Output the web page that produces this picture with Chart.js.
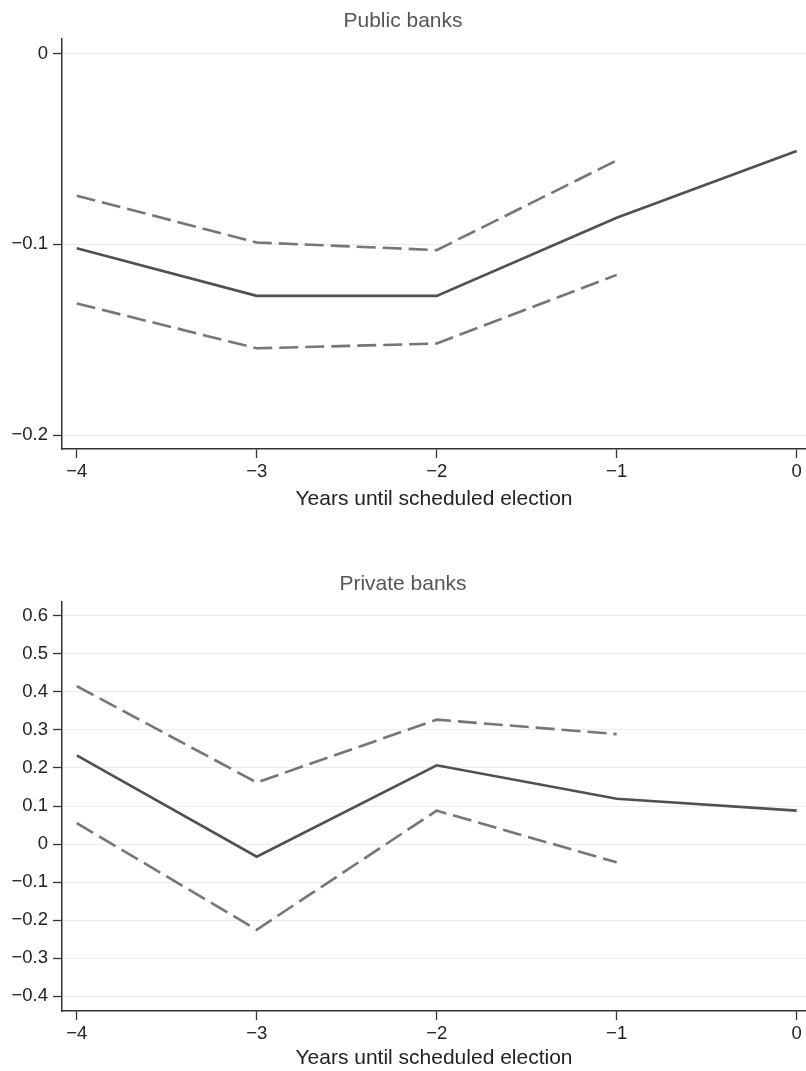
<!DOCTYPE html>
<html><head><meta charset="utf-8">
<script src="https://cdn.jsdelivr.net/npm/chart.js@4"></script>
<style>
html,body{margin:0;padding:0;background:#fff;}
#wrap1{position:absolute;left:0;top:0;width:806px;height:530px;}
#wrap2{position:absolute;left:0;top:540px;width:806px;height:531px;}
canvas{display:block;}
</style></head><body>
<div id="wrap1"><canvas id="c1" width="806" height="530"></canvas></div>
<div id="wrap2"><canvas id="c2" width="806" height="531"></canvas></div>
<script>
const years = [-4, -3, -2, -1, 0];
const publicEstimate = [-0.102, -0.127, -0.127, -0.086, -0.051];
const publicUpper = [-0.0745, -0.099, -0.103, -0.056];
const publicLower = [-0.131, -0.1545, -0.152, -0.116];
const privateEstimate = [0.233, -0.033, 0.207, 0.119, 0.088];
const privateUpper = [0.415, 0.162, 0.327, 0.289];
const privateLower = [0.055, -0.225, 0.088, -0.048];
const xTicks = [-4, -3, -2, -1, 0];
const publicYTicks = [-0.2, -0.1, 0];
const privateYTicks = [-0.4, -0.3, -0.2, -0.1, 0, 0.1, 0.2, 0.3, 0.4, 0.5, 0.6];
const panelTitles = ['Public banks', 'Private banks'];
const xTitle = 'Years until scheduled election';

Chart.defaults.font.family = "'Liberation Sans', Arial, Helvetica, sans-serif";

function pts(arr) { return arr.map((v, i) => ({ x: years[i], y: v })); }
function fmt(v) {
  const r = Math.round(v * 10) / 10;
  const s = (r === 0 ? 0 : r).toString();
  return s.replace('-', '\u2212');
}
const dashStyle = { borderColor: '#767676', borderWidth: 2.6, borderDash: [19, 7], pointRadius: 0, fill: false, tension: 0 };
const solidStyle = { borderColor: '#505050', borderWidth: 2.6, pointRadius: 0, fill: false, tension: 0 };

function makeChart(id, c) {
  new Chart(document.getElementById(id), {
    type: 'line',
    data: {
      datasets: [
        Object.assign({ label: 'upper', data: pts(c.upper) }, dashStyle),
        Object.assign({ label: 'estimate', data: pts(c.est) }, solidStyle),
        Object.assign({ label: 'lower', data: pts(c.lower) }, dashStyle)
      ]
    },
    options: {
      responsive: false,
      animation: false,
      layout: { padding: 0 },
      plugins: {
        legend: { display: false },
        tooltip: { enabled: false },
        title: {
          display: true, text: c.title, color: '#555',
          font: { size: 21, weight: 'normal' },
          padding: { top: c.titleTop, bottom: c.titleBottom }
        }
      },
      scales: {
        x: {
          type: 'linear', min: -4.082, max: 0.052,
          afterBuildTicks: s => { s.ticks = xTicks.map(v => ({ value: v })); },
          afterFit: s => { s.height = c.xHeight; },
          ticks: { callback: v => fmt(v), color: '#222', font: { size: 18.5 }, padding: 3, maxRotation: 0, autoSkip: false },
          grid: { drawOnChartArea: false, tickLength: 9, tickColor: '#333', tickWidth: 1.3 },
          border: { color: '#333', width: 1.5 },
          title: { display: true, text: xTitle, color: '#222', font: { size: 21 }, padding: { top: 0, bottom: c.xTitleBottom } }
        },
        y: {
          type: 'linear', min: c.ymin, max: c.ymax,
          afterBuildTicks: s => { s.ticks = c.yTicks.map(v => ({ value: v })); },
          afterFit: s => { s.width = 62; },
          ticks: { callback: v => fmt(v), color: '#222', font: { size: 18.5 }, padding: 5, autoSkip: false },
          grid: { color: '#ececec', lineWidth: 1, tickLength: 9, tickColor: '#333', tickWidth: 1.3 },
          border: { color: '#333', width: 1.5 }
        }
      }
    }
  });
}

makeChart('c1', {
  title: panelTitles[0], est: publicEstimate, upper: publicUpper, lower: publicLower,
  yTicks: publicYTicks, ymin: -0.2073, ymax: 0.0077,
  titleTop: 9, titleBottom: 4.8, xHeight: 81, xTitleBottom: 18
});
makeChart('c2', {
  title: panelTitles[1], est: privateEstimate, upper: privateUpper, lower: privateLower,
  yTicks: privateYTicks, ymin: -0.4386, ymax: 0.637,
  titleTop: 32, titleBottom: 4.5, xHeight: 60, xTitleBottom: 0
});
</script>
</body></html>
